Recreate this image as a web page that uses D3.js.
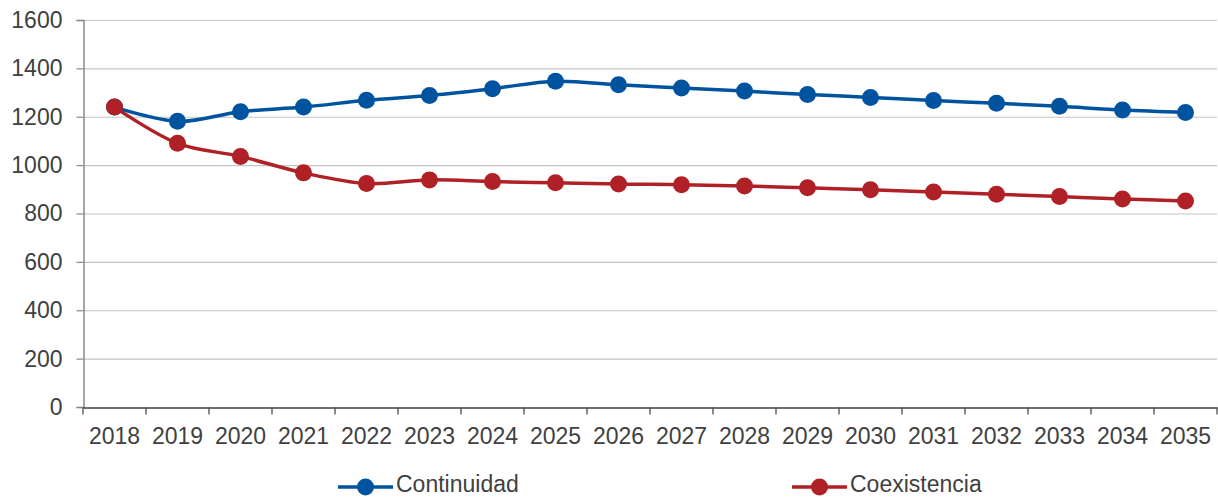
<!DOCTYPE html>
<html><head><meta charset="utf-8">
<script src="https://cdn.jsdelivr.net/npm/d3@7"></script>
<style>body{margin:0;background:#fff}svg{display:block}text{font-family:"Liberation Sans",Arial,sans-serif;fill:#404040}</style>
</head><body>
<svg id="c" width="1218" height="497"></svg>
<script>
const years = ["2018","2019","2020","2021","2022","2023","2024","2025","2026","2027","2028","2029","2030","2031","2032","2033","2034","2035"];
const continuidad = [1240,1181,1221,1240,1268,1288,1316,1347,1332,1319,1306,1292,1280,1267,1256,1243,1228,1218];
const coexistencia = [1240,1090,1036,968,924,939,932,927,922,919,914,906,898,889,880,870,860,852];
const yTicks = [0,200,400,600,800,1000,1200,1400,1600];
const seriesNames = ["Continuidad","Coexistencia"];
const colors = ["#00539F","#AF2126"];

const svg = d3.select("#c");
const L = 83, R = 1217, T = 20, B = 407;
const x = d3.scaleBand().domain(years).range([L, R]);
const y = d3.scaleLinear().domain([0,1600]).range([B, T]);

// gridlines
svg.append("g").selectAll("line").data(yTicks.filter(d=>d>0)).join("line")
  .attr("x1", L).attr("x2", R).attr("y1", d=>y(d)+0.5).attr("y2", d=>y(d)+0.5)
  .attr("stroke", "#c4c4c4").attr("stroke-width", 1.2);

// y axis
const ya = svg.append("g").attr("transform", `translate(${L+0.5},0)`)
  .call(d3.axisLeft(y).tickValues(yTicks).tickSize(7).tickPadding(14).tickFormat(d3.format("d")));
ya.select(".domain").attr("stroke", "#8a8a8a").attr("stroke-width", 1.5);
ya.selectAll(".tick line").attr("stroke", "#8a8a8a").attr("stroke-width", 1.2);
ya.selectAll("text").style("font-size", "23px").attr("fill", "#404040");

// x axis
const xa = svg.append("g").attr("transform", `translate(0,${B+0.5})`)
  .call(d3.axisBottom(x).tickSize(0).tickPadding(20));
xa.select(".domain").attr("stroke", "#404040").attr("stroke-width", 1.5);
xa.selectAll("text").style("font-size", "23px").attr("fill", "#404040").attr("dy", "0.71em");
// boundary ticks
const bounds = years.map(d => x(d)).concat([x(years[years.length-1]) + x.bandwidth()]);
xa.append("g").selectAll("line").data(bounds).join("line")
  .attr("x1", d=>d).attr("x2", d=>d).attr("y1", 0).attr("y2", 7)
  .attr("stroke", "#404040").attr("stroke-width", 1.2);

const cx = d => x(d) + x.bandwidth()/2;
const line = d3.line().x((d,i)=>cx(years[i])).y(d=>y(d)).curve(d3.curveCatmullRom.alpha(0.5));

[continuidad, coexistencia].forEach((vals, si) => {
  const g = svg.append("g");
  g.append("path").datum(vals).attr("d", line).attr("fill","none")
    .attr("stroke", colors[si]).attr("stroke-width", 3.5);
  g.selectAll("circle").data(vals).join("circle")
    .attr("cx", (d,i)=>cx(years[i])).attr("cy", d=>y(d)).attr("r", 8.5)
    .attr("fill", colors[si]);
});

// legend
const legendX = [338, 792];
seriesNames.forEach((name, i) => {
  const g = svg.append("g").attr("transform", `translate(${legendX[i]},487)`);
  g.append("line").attr("x1",0).attr("x2",55).attr("y1",0).attr("y2",0)
    .attr("stroke", colors[i]).attr("stroke-width", 3.5);
  g.append("circle").attr("cx",27.5).attr("cy",0).attr("r",8.5).attr("fill", colors[i]);
  g.append("text").attr("x",58).attr("y",0).attr("dy","0.2em")
    .style("font-size","23px").text(name);
});
</script>
</body></html>
